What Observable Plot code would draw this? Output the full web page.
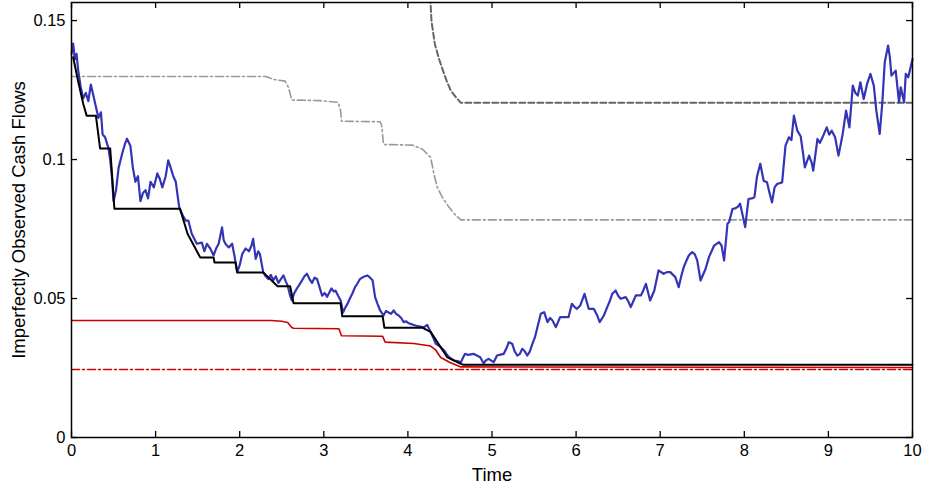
<!DOCTYPE html>
<html><head><meta charset="utf-8">
<script src="https://cdn.jsdelivr.net/npm/d3@7"></script>
<script src="https://cdn.jsdelivr.net/npm/@observablehq/plot@0.6"></script>
<style>body{margin:0;background:#fff}</style>
</head><body><div id="chart"></div>
<script>
// ---- data ----
const xTicks = [0,1,2,3,4,5,6,7,8,9,10];
const yTicks = [0,0.05,0.1,0.15];
const yTickLabels = ["0","0.05","0.1","0.15"];
const xLabel = "Time";
const yLabel = "Imperfectly Observed Cash Flows";

const blueT = [0.00,0.02,0.04,0.06,0.08,0.11,0.14,0.17,0.20,0.23,0.26,0.29,0.32,0.35,0.37,0.40,0.44,0.46,0.48,0.50,0.53,0.56,0.61,0.64,0.66,0.70,0.73,0.76,0.79,0.82,0.85,0.88,0.91,0.94,0.98,1.02,1.05,1.08,1.12,1.15,1.18,1.21,1.24,1.28,1.32,1.36,1.39,1.43,1.46,1.49,1.55,1.58,1.61,1.65,1.69,1.72,1.75,1.79,1.81,1.83,1.87,1.91,1.94,1.97,2.00,2.03,2.07,2.11,2.14,2.16,2.19,2.22,2.24,2.28,2.31,2.34,2.37,2.40,2.43,2.46,2.52,2.55,2.57,2.60,2.62,2.65,2.68,2.71,2.74,2.77,2.80,2.83,2.86,2.89,2.92,2.95,2.98,3.01,3.04,3.09,3.12,3.14,3.17,3.20,3.23,3.26,3.28,3.31,3.34,3.37,3.40,3.43,3.46,3.49,3.52,3.55,3.58,3.61,3.64,3.67,3.71,3.74,3.77,3.80,3.83,3.86,3.89,3.92,3.95,3.98,4.01,4.04,4.07,4.10,4.13,4.16,4.19,4.23,4.27,4.30,4.33,4.36,4.39,4.43,4.46,4.49,4.52,4.55,4.59,4.63,4.66,4.68,4.72,4.78,4.82,4.86,4.90,4.93,4.96,5.00,5.02,5.06,5.10,5.14,5.17,5.20,5.24,5.27,5.30,5.33,5.36,5.39,5.42,5.45,5.48,5.51,5.54,5.58,5.62,5.66,5.69,5.72,5.76,5.81,5.87,5.91,5.95,5.98,6.01,6.05,6.10,6.15,6.21,6.25,6.28,6.33,6.37,6.40,6.43,6.47,6.50,6.53,6.59,6.62,6.65,6.68,6.71,6.77,6.80,6.83,6.88,6.93,6.98,7.04,7.08,7.12,7.18,7.22,7.25,7.28,7.31,7.34,7.38,7.41,7.44,7.48,7.54,7.58,7.64,7.70,7.73,7.76,7.80,7.82,7.86,7.88,7.92,7.95,7.98,8.01,8.05,8.09,8.12,8.15,8.19,8.23,8.27,8.30,8.33,8.36,8.39,8.45,8.49,8.53,8.56,8.59,8.63,8.67,8.70,8.72,8.77,8.80,8.82,8.87,8.90,8.93,8.98,9.01,9.04,9.08,9.12,9.17,9.21,9.25,9.29,9.32,9.35,9.38,9.42,9.46,9.50,9.54,9.57,9.61,9.64,9.67,9.71,9.73,9.75,9.80,9.84,9.86,9.90,9.92,9.95,10.0];
const blueV = [0.138,0.1417,0.136,0.138,0.132,0.126,0.122,0.124,0.121,0.127,0.123,0.119,0.115,0.117,0.109,0.108,0.104,0.100,0.094,0.085,0.089,0.097,0.103,0.106,0.1075,0.105,0.097,0.092,0.094,0.085,0.088,0.089,0.086,0.092,0.090,0.095,0.093,0.090,0.094,0.0997,0.097,0.094,0.092,0.083,0.080,0.078,0.078,0.0733,0.0715,0.0697,0.0701,0.067,0.0697,0.068,0.0655,0.068,0.0697,0.0756,0.071,0.0697,0.0684,0.0697,0.065,0.0595,0.062,0.066,0.068,0.067,0.069,0.0715,0.0643,0.067,0.066,0.0594,0.058,0.057,0.0585,0.0566,0.058,0.0556,0.0583,0.056,0.0547,0.051,0.0493,0.052,0.0536,0.055,0.0565,0.058,0.0589,0.057,0.0556,0.0575,0.057,0.054,0.051,0.052,0.0506,0.0536,0.0525,0.0528,0.051,0.0493,0.045,0.047,0.048,0.050,0.0518,0.054,0.0554,0.057,0.0576,0.058,0.0583,0.0575,0.0566,0.0505,0.048,0.0457,0.0439,0.0455,0.045,0.0445,0.0457,0.0445,0.0439,0.043,0.0415,0.0418,0.0411,0.0408,0.0405,0.0402,0.0400,0.0398,0.0396,0.0405,0.038,0.036,0.0338,0.0332,0.0325,0.0313,0.030,0.0289,0.0283,0.0277,0.0275,0.0271,0.029,0.0301,0.0297,0.0301,0.0295,0.0289,0.0267,0.0278,0.0283,0.0275,0.0271,0.0295,0.0298,0.0301,0.032,0.0343,0.0337,0.031,0.0295,0.030,0.0319,0.031,0.0295,0.031,0.0337,0.036,0.0397,0.0445,0.0451,0.0415,0.043,0.0421,0.0397,0.0433,0.0433,0.0433,0.0481,0.047,0.0463,0.0475,0.0517,0.0463,0.0463,0.044,0.0415,0.0439,0.0469,0.049,0.0517,0.0529,0.051,0.0499,0.0505,0.049,0.0469,0.049,0.0511,0.0511,0.053,0.0553,0.0493,0.0529,0.0601,0.0589,0.0595,0.0595,0.0577,0.0541,0.058,0.0613,0.0635,0.0655,0.0667,0.066,0.0637,0.0565,0.0607,0.0649,0.069,0.0703,0.069,0.0637,0.0769,0.0775,0.0823,0.0823,0.0829,0.0841,0.080,0.0757,0.0858,0.086,0.0864,0.0937,0.0985,0.0924,0.0918,0.088,0.0846,0.090,0.0912,0.0918,0.105,0.108,0.107,0.1158,0.1104,0.1084,0.102,0.0972,0.1014,0.099,0.096,0.1074,0.106,0.108,0.1116,0.109,0.1104,0.108,0.1014,0.1092,0.1176,0.1116,0.1266,0.124,0.1230,0.1278,0.1218,0.1272,0.1308,0.1266,0.1176,0.1092,0.1200,0.135,0.141,0.137,0.1302,0.132,0.1206,0.126,0.1206,0.1308,0.1296,0.1362];

const blackT = [0.02,0.08,0.14,0.18,0.29,0.34,0.46,0.51,1.29,1.38,1.53,1.69,1.70,1.95,1.97,2.28,2.45,2.60,2.64,3.20,3.22,3.70,3.72,4.17,4.27,4.47,4.63,4.66,10];
const blackV = [0.1368,0.128,0.120,0.1158,0.1158,0.104,0.104,0.0823,0.0823,0.0733,0.0648,0.0648,0.063,0.063,0.0594,0.0594,0.0544,0.0544,0.0483,0.0483,0.0436,0.0436,0.0395,0.0395,0.038,0.0288,0.0265,0.0262,0.0262];

const redT = [0,2.37,2.50,2.57,2.62,2.64,3.18,3.21,3.70,3.73,4.07,4.27,4.33,4.39,4.50,4.63,10];
const redV = [0.0421,0.0421,0.0418,0.0414,0.0396,0.0393,0.0391,0.0366,0.0364,0.0343,0.0338,0.0329,0.0315,0.0288,0.027,0.0254,0.0252];

const redDashDotT = [0,10];
const redDashDotV = [0.0245,0.0245];

const grayDashT = [4.26,4.27,4.28,4.32,4.37,4.41,4.46,4.51,4.57,4.63,10];
const grayDashV = [0.165,0.156,0.150,0.1416,0.1362,0.1326,0.1284,0.1248,0.1224,0.1204,0.1204];

const grayDashDotT = [0,2.31,2.41,2.54,2.58,2.62,2.96,3.17,3.20,3.21,3.67,3.69,3.71,4.05,4.17,4.27,4.31,4.35,4.41,4.49,4.57,4.63,10];
const grayDashDotV = [0.1299,0.1299,0.1288,0.1282,0.126,0.1214,0.1212,0.1206,0.1176,0.1138,0.1136,0.112,0.1054,0.1052,0.1038,0.1008,0.0948,0.090,0.0864,0.0828,0.0799,0.0783,0.0783];

// ---- build tables ----
const zipTV = (T, V) => T.map((t, i) => ({t, v: V[i]}));
const blue = zipTV(blueT, blueV);
const black = zipTV(blackT, blackV);
const red = zipTV(redT, redV);
const redDD = zipTV(redDashDotT, redDashDotV);
const grayDash = zipTV(grayDashT, grayDashV);
const grayDD = zipTV(grayDashDotT, grayDashDotV);

const W = 925, H = 487, mL = 71, mR = 13, mT = 2, mB = 50;
const plotH = H - mT - mB, plotW = W - mL - mR;
const TL = 6;

const chart = Plot.plot({
  width: W, height: H,
  marginLeft: mL, marginRight: mR, marginTop: mT, marginBottom: mB,
  style: {fontSize: "16.5px", fontFamily: "'Liberation Sans', Arial, sans-serif", color: "black", background: "white", overflow: "visible"},
  x: {domain: [0, 10]},
  y: {domain: [0, 0.1565]},
  marks: [
    Plot.line(grayDD, {x: "t", y: "v", stroke: "#999999", strokeWidth: 1.6, strokeDasharray: "8,3,2,3"}),
    Plot.line(grayDash, {x: "t", y: "v", stroke: "#666666", strokeWidth: 2, strokeDasharray: "6,3", clip: true}),
    Plot.line(redDD, {x: "t", y: "v", stroke: "#cc0000", strokeWidth: 1.5, strokeDasharray: "8,3,2,3"}),
    Plot.line(red, {x: "t", y: "v", stroke: "#cc0000", strokeWidth: 1.6}),
    Plot.line(blue, {x: "t", y: "v", stroke: "#3434b6", strokeWidth: 2.2}),
    Plot.line(black, {x: "t", y: "v", stroke: "black", strokeWidth: 2}),
    Plot.frame({stroke: "black", strokeWidth: 1.5}),
    Plot.tickX(xTicks, {x: d => d, insetTop: plotH - TL, stroke: "black", strokeWidth: 1.3}),
    Plot.tickX(xTicks, {x: d => d, insetBottom: plotH - TL, stroke: "black", strokeWidth: 1.3}),
    Plot.tickY(yTicks, {y: d => d, insetRight: plotW - TL, stroke: "black", strokeWidth: 1.3}),
    Plot.tickY(yTicks, {y: d => d, insetLeft: plotW - TL, stroke: "black", strokeWidth: 1.3}),
    Plot.axisX(xTicks, {tickSize: 0, tickPadding: 7, tickFormat: d => String(d), label: null}),
    Plot.axisY(yTicks, {tickSize: 0, tickPadding: 6, tickFormat: d => yTickLabels[yTicks.indexOf(d)], label: null}),
    Plot.text([xLabel], {text: d => d, frameAnchor: "bottom", dy: 43, lineAnchor: "bottom", fontSize: 18.5, fill: "black"}),
    Plot.text([yLabel], {text: d => d, frameAnchor: "left", dx: -60, rotate: -90, textAnchor: "middle", lineAnchor: "top", fontSize: 18.5, fill: "black"})
  ]
});
document.getElementById("chart").appendChild(chart);
</script>
</body></html>
